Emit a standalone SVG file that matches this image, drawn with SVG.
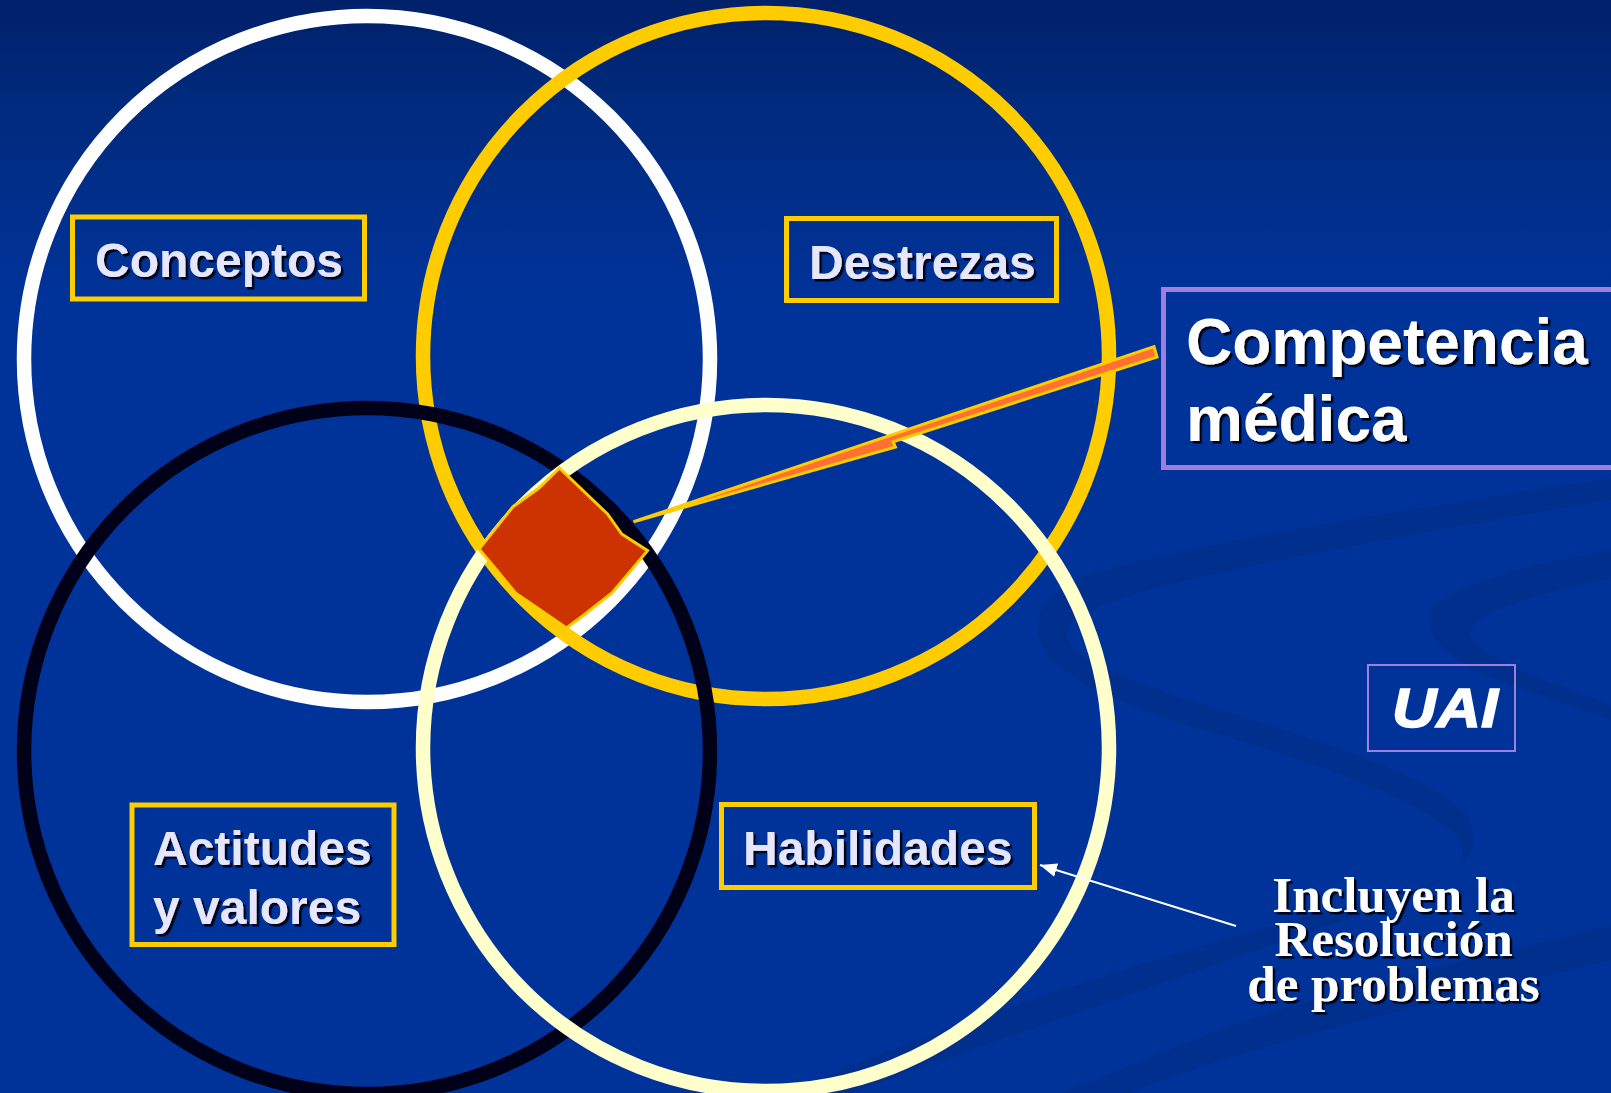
<svg xmlns="http://www.w3.org/2000/svg" width="1611" height="1093" viewBox="0 0 1611 1093">
<defs>
<linearGradient id="bg" x1="0" y1="0" x2="0" y2="1"><stop offset="0" stop-color="#00206a"/><stop offset="0.09" stop-color="#002a7c"/><stop offset="0.27" stop-color="#003399"/><stop offset="1" stop-color="#003399"/></linearGradient>
<filter id="sh" x="-5%" y="-10%" width="110%" height="120%"><feDropShadow dx="2.5" dy="2.5" stdDeviation="0.3" flood-color="#000018"/></filter>
<marker id="ah" markerUnits="userSpaceOnUse" markerWidth="18" markerHeight="14" refX="17" refY="7" orient="auto"><path d="M0,0L17,7L0,14Z" fill="#fff"/></marker>
</defs>
<style>
.ring{fill:none;stroke-width:14.5}
.box{fill:none;stroke:#ffcc00;stroke-width:5}
.pbox{fill:none;stroke:#9e7fdc}
.lbl{font-family:"Liberation Sans",Arial,sans-serif;font-weight:700;font-size:48px;fill:#e6e6ff;filter:url(#sh)}
.main{font-family:"Liberation Sans",Arial,sans-serif;font-weight:700;font-size:64px;fill:#fff;filter:url(#sh)}
.note{font-family:"Liberation Serif","Times New Roman",serif;font-weight:700;font-size:51px;fill:#fff;text-anchor:middle;filter:url(#sh)}
.sw{fill:#002f8e}
</style>
<rect width="1611" height="1093" fill="url(#bg)"/>
<g id="background-swooshes">
<path class="sw" d="M1611,478C1400,510 1180,545 1090,575C1040,592 1030,620 1042,645C1060,680 1120,705 1220,735C1330,768 1420,800 1455,835C1475,860 1455,880 1400,893C1300,915 1150,960 1000,1010C930,1035 860,1060 790,1093L850,1093C1000,1040 1200,970 1330,925C1440,890 1490,860 1470,820C1440,775 1300,735 1180,697C1100,670 1060,650 1068,630C1080,600 1200,570 1611,500Z"/>
<path class="sw" d="M1611,550C1520,565 1460,585 1435,605C1420,625 1435,650 1475,670C1520,690 1570,705 1611,720L1611,705C1560,685 1480,660 1470,635C1470,615 1530,595 1611,578Z"/>
<path class="sw" d="M1611,925C1500,955 1330,985 1180,1045C1120,1070 1080,1085 1060,1093L1130,1093C1260,1040 1450,1000 1611,960Z"/>
</g>
<g id="circle-conceptos"><circle class="ring" cx="367" cy="359" r="343" stroke="#ffffff"/></g>
<g id="circle-destrezas"><circle class="ring" cx="766" cy="356" r="343" stroke="#ffcc00"/></g>
<g id="circle-actitudes"><circle class="ring" cx="367" cy="751" r="343" stroke="#000018"/></g>
<g id="circle-habilidades"><circle class="ring" cx="766" cy="748" r="343" stroke="#ffffcc"/></g>
<g id="connectors">
<path d="M633.5,521.7L1154,346.7L1157,357L893,441.7L895.4,447Z" fill="#ff7033" stroke="#ffcc00" stroke-width="3"/>
<line x1="1236" y1="926" x2="1040" y2="865" stroke="#fff" stroke-width="2" marker-end="url(#ah)"/>
</g>
<g id="intersection"><path d="M559.4,468L607.5,514L621.7,534L647.6,550.7L612,593L581.6,616.7L566.5,628L515.5,593L496.6,570L479,549L513,506.7L539,488Z" fill="#cc3300" stroke="#ffcc00" stroke-width="3"/></g>
<g id="node-conceptos"><rect class="box" x="72.500" y="217" width="292" height="82"/><text class="lbl" x="95" y="276.500">Conceptos</text></g>
<g id="node-destrezas"><rect class="box" x="786.500" y="218.500" width="270" height="82"/><text class="lbl" x="809" y="279">Destrezas</text></g>
<g id="node-actitudes"><rect class="box" x="132" y="805" width="262" height="139.500"/><text class="lbl" x="153" y="865">Actitudes</text><text class="lbl" x="153" y="924">y valores</text></g>
<g id="node-habilidades"><rect class="box" x="721.500" y="804.500" width="313" height="83"/><text class="lbl" x="743" y="865">Habilidades</text></g>
<g id="node-competencia"><rect class="pbox" stroke-width="5" x="1163.500" y="289.500" width="460" height="178"/><text class="main" x="1186" y="364">Competencia</text><text class="main" x="1186" y="441">médica</text></g>
<g id="node-uai"><rect class="pbox" stroke-width="2" x="1368" y="665" width="147" height="86"/><text x="1392" y="727" font-family="Liberation Sans,Arial,sans-serif" font-weight="700" font-style="italic" font-size="56" fill="#fff" stroke="#fff" stroke-width="1.500" textLength="106" lengthAdjust="spacingAndGlyphs">UAI</text></g>
<g id="node-note"><text class="note" x="1393.500" y="911.500">Incluyen la</text><text class="note" x="1393.500" y="956">Resolución</text><text class="note" x="1393.500" y="1000.500">de problemas</text></g>
</svg>
